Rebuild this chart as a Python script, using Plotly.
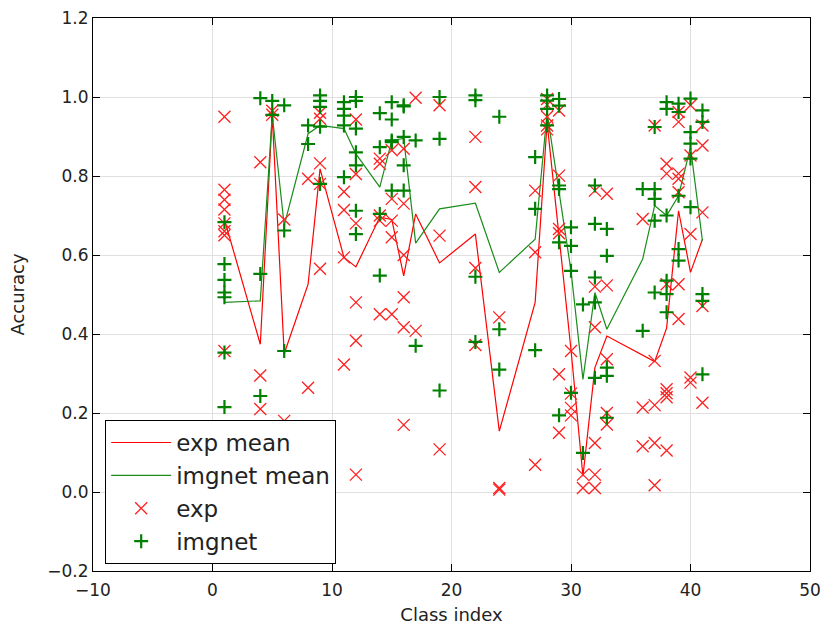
import plotly.graph_objects as go

# Class indices that have measurements
classes = [1, 4, 5, 6, 8, 9, 11, 12, 14, 15, 16, 17, 19, 22, 24,
           27, 28, 29, 30, 31, 32, 33, 36, 37, 38, 39, 40, 41]

# Per-class accuracy runs, aligned with `classes`
exp_acc = [
    [0.95, 0.765, 0.74, 0.715, 0.68, 0.66, 0.65, 0.357],
    [0.835, 0.295, 0.21],
    [0.965, 0.955],
    [0.69, 0.18],
    [0.793, 0.264],
    [0.96, 0.945, 0.832, 0.78, 0.565],
    [0.76, 0.714, 0.594, 0.323],
    [0.943, 0.805, 0.68, 0.48, 0.383, 0.044],
    [0.844, 0.831, 0.70, 0.687, 0.45],
    [0.865, 0.742, 0.687, 0.645, 0.45],
    [0.869, 0.73, 0.6, 0.493, 0.417, 0.17],
    [0.998, 0.408],
    [0.979, 0.649, 0.108],
    [0.899, 0.772, 0.567, 0.372],
    [0.442, 0.01, 0.006],
    [0.763, 0.607, 0.069],
    [0.995, 0.98, 0.95, 0.928, 0.918],
    [0.966, 0.801, 0.666, 0.655, 0.298, 0.15],
    [0.357, 0.249, 0.213, 0.194],
    [0.044, 0.01],
    [0.763, 0.52, 0.417, 0.124, 0.044, 0.01],
    [0.755, 0.523, 0.336, 0.2, 0.171],
    [0.691, 0.214, 0.116],
    [0.928, 0.332, 0.22, 0.124, 0.017],
    [0.831, 0.806, 0.526, 0.26, 0.25, 0.24, 0.105],
    [0.962, 0.937, 0.806, 0.793, 0.759, 0.526, 0.438],
    [0.979, 0.852, 0.653, 0.29, 0.277],
    [0.928, 0.877, 0.708, 0.471, 0.226],
]

imgnet_acc = [
    [0.683, 0.577, 0.537, 0.505, 0.493, 0.353, 0.215],
    [0.997, 0.552, 0.243],
    [0.99, 0.955],
    [0.979, 0.662, 0.357],
    [0.928, 0.881],
    [1.004, 0.99, 0.975, 0.925, 0.78],
    [0.987, 0.97, 0.953, 0.928, 0.797],
    [1.0, 0.99, 0.92, 0.86, 0.827, 0.712, 0.653],
    [0.959, 0.873, 0.704, 0.548],
    [0.987, 0.943, 0.886, 0.89, 0.763],
    [0.979, 0.976, 0.899, 0.827, 0.763],
    [0.89, 0.37],
    [1.0, 0.894, 0.257],
    [1.004, 0.992, 0.545, 0.38],
    [0.95, 0.412, 0.31],
    [0.848, 0.717, 0.359],
    [1.004, 0.991, 0.97, 0.928],
    [0.995, 0.978, 0.776, 0.767, 0.632, 0.194],
    [0.67, 0.623, 0.56, 0.251],
    [0.475, 0.099],
    [0.776, 0.679, 0.543, 0.48, 0.289],
    [0.666, 0.598, 0.315, 0.294, 0.188],
    [0.767, 0.408],
    [0.924, 0.767, 0.742, 0.687, 0.505],
    [0.987, 0.97, 0.70, 0.535, 0.501, 0.455],
    [0.983, 0.962, 0.75, 0.615, 0.586],
    [0.996, 0.911, 0.882, 0.844, 0.721],
    [0.966, 0.937, 0.501, 0.484, 0.298],
]

# Mean accuracy per class
exp_mean = [0.69, 0.374, 0.953, 0.35, 0.526, 0.818, 0.594, 0.57, 0.696,
            0.69, 0.547, 0.704, 0.58, 0.653, 0.154, 0.48, 0.935, 0.64,
            0.36, 0.04, 0.315, 0.395, 0.345, 0.33, 0.415, 0.712, 0.556, 0.64]
imgnet_mean = [0.48, 0.484, 0.955, 0.675, 0.907, 0.928, 0.92, 0.856, 0.772,
               0.89, 0.895, 0.63, 0.717, 0.731, 0.556, 0.64, 0.96, 0.76,
               0.56, 0.285, 0.505, 0.412, 0.59, 0.725, 0.70, 0.75, 0.873, 0.636]


def flatten(groups):
    xs, ys = [], []
    for c, vals in zip(classes, groups):
        xs.extend([c] * len(vals))
        ys.extend(vals)
    return xs, ys


exp_x, exp_y = flatten(exp_acc)
img_x, img_y = flatten(imgnet_acc)

FONT = "DejaVu Sans"

fig = go.Figure()
fig.add_trace(go.Scatter(x=classes, y=exp_mean, mode="lines", name="exp mean",
                         line=dict(color="#ff0000", width=1.2)))
fig.add_trace(go.Scatter(x=classes, y=imgnet_mean, mode="lines", name="imgnet mean",
                         line=dict(color="#1a8c1a", width=1.2)))
fig.add_trace(go.Scatter(x=exp_x, y=exp_y, mode="markers", name="exp",
                         marker=dict(symbol="x-thin", size=12, color="#ff0000",
                                     line=dict(color="#ff2020", width=1.3))))
fig.add_trace(go.Scatter(x=img_x, y=img_y, mode="markers", name="imgnet",
                         marker=dict(symbol="cross-thin", size=10, color="#008000",
                                     line=dict(color="#008000", width=2.2))))

axis_common = dict(
    showline=True, linecolor="black", linewidth=1, mirror="ticks",
    ticks="inside", ticklen=7, tickcolor="black", automargin=False,
    showgrid=True, gridcolor="#e0e0e0", gridwidth=1, zeroline=False,
    tickfont=dict(family=FONT, size=17, color="#222222"),
)

fig.update_layout(
    width=821, height=630,
    margin=dict(l=93, r=11, t=18, b=59),
    paper_bgcolor="white", plot_bgcolor="white",
    font=dict(family=FONT, color="#222222"),
    xaxis=dict(range=[-10, 50], dtick=10, tick0=0, ticklabelstandoff=4,
               title=dict(text="Class index", font=dict(family=FONT, size=18), standoff=8),
               **axis_common),
    yaxis=dict(range=[-0.2, 1.2], dtick=0.2, tick0=0, tickformat=".1f",
               title=dict(text="Accuracy", font=dict(family=FONT, size=18), standoff=18),
               **axis_common),
    legend=dict(x=0.017, y=0.273, xanchor="left", yanchor="top",
                bgcolor="white", bordercolor="black", borderwidth=1,
                font=dict(family=FONT, size=23, color="#222222"),
                itemwidth=60, tracegroupgap=0),
    showlegend=True,
)

fig.write_html("out.html")
